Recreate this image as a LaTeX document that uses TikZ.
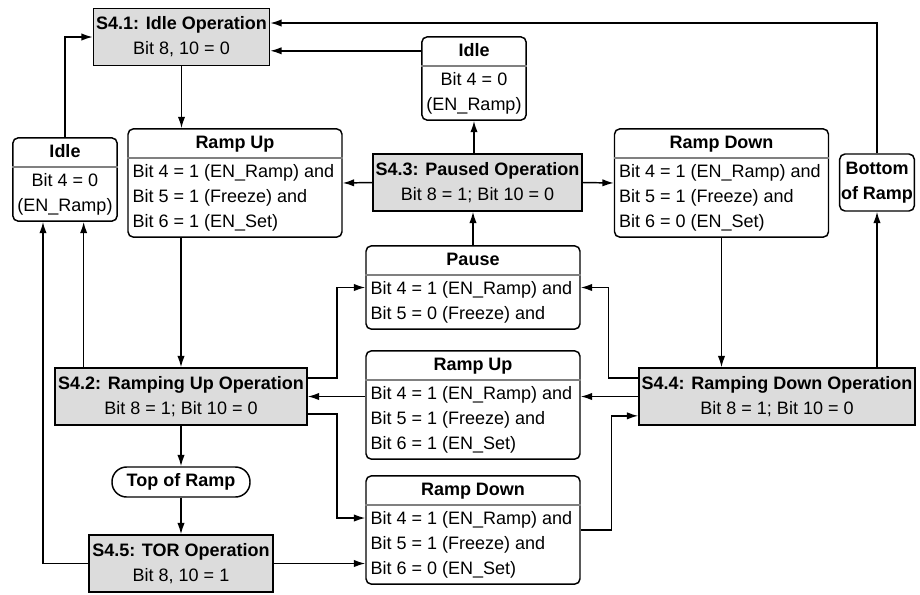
\documentclass[tikz,border=0pt]{standalone}
\usepackage{fontspec}
\setmainfont{Liberation Sans}
\usetikzlibrary{shapes.multipart,arrows.meta}
\definecolor{opgray}{RGB}{220,220,220}
\begin{document}
\begin{tikzpicture}[x=0.75pt,y=-0.75pt,
  font=\fontsize{13.5}{18.75}\selectfont,
  opbox/.style={draw,fill=opgray,line width=1.1pt,align=center,minimum height=42.75pt,inner sep=2pt},
  condbox/.style={draw,rounded corners=4pt,line width=1.1pt,rectangle split,rectangle split parts=2,
    rectangle split draw splits=false,rectangle split part align={center,left},
    align=left,inner xsep=3.5pt,inner ysep=1pt},
  idlebox/.style={condbox,rectangle split part align={center,center},align=center,minimum width=76.5pt},
  rampbox/.style={condbox,minimum width=160.5pt},
  endbox/.style={draw,rounded corners=4pt,line width=1.1pt,font=\fontsize{13.5}{18.75}\selectfont\bfseries,align=center,inner xsep=1pt},
  splitline/.style={draw=gray,line width=0.8pt},
  arr/.style={-{Latex[length=8.5pt,width=5.5pt]},line width=1.1pt}]
\useasboundingbox (0,0) rectangle (920,594);
\node[opbox,minimum width=131.25pt] (s41) at (181.5,37) {\textbf{S4.1: Idle Operation}\\Bit 8, 10 = 0};
\node[idlebox] (idleT) at (474,78.5) {\strut\textbf{Idle}\nodepart{two}\strut Bit 4 = 0\\\strut(EN\_Ramp)};
\node[idlebox] (idleL) at (65,179.5) {\strut\textbf{Idle}\nodepart{two}\strut Bit 4 = 0\\\strut(EN\_Ramp)};
\node[rampbox] (upT) at (235,183) {\strut\textbf{Ramp Up}\nodepart{two}\strut Bit 4 = 1 (EN\_Ramp) and\\\strut Bit 5 = 1 (Freeze) and\\\strut Bit 6 = 1 (EN\_Set)};
\node[opbox,minimum width=156.75pt] (s43) at (477.5,182.5) {\textbf{S4.3: Paused Operation}\\Bit 8 = 1; Bit 10 = 0};
\node[rampbox] (downT) at (721.5,183) {\strut\textbf{Ramp Down}\nodepart{two}\strut Bit 4 = 1 (EN\_Ramp) and\\\strut Bit 5 = 1 (Freeze) and\\\strut Bit 6 = 0 (EN\_Set)};
\node[endbox,minimum height=42.75pt] (bottom) at (877,182.5) {Bottom\\of Ramp};
\node[rampbox] (pause) at (473,287.5) {\strut\textbf{Pause}\nodepart{two}\strut Bit 4 = 1 (EN\_Ramp) and\\\strut Bit 5 = 0 (Freeze) and};
\node[opbox,minimum width=189pt] (s42) at (181,396.5) {\textbf{S4.2: Ramping Up Operation}\\Bit 8 = 1; Bit 10 = 0};
\node[rampbox] (upM) at (473,405) {\strut\textbf{Ramp Up}\nodepart{two}\strut Bit 4 = 1 (EN\_Ramp) and\\\strut Bit 5 = 1 (Freeze) and\\\strut Bit 6 = 1 (EN\_Set)};
\node[opbox,minimum width=205.5pt] (s44) at (777,396.5) {\textbf{S4.4: Ramping Down Operation}\\Bit 8 = 1; Bit 10 = 0};
\node[endbox,rounded corners=11pt,minimum width=103.5pt,minimum height=22.5pt,inner ysep=1pt] (topR) at (181,482) {Top of Ramp};
\node[rampbox] (downB) at (473,530) {\strut\textbf{Ramp Down}\nodepart{two}\strut Bit 4 = 1 (EN\_Ramp) and\\\strut Bit 5 = 1 (Freeze) and\\\strut Bit 6 = 0 (EN\_Set)};
\node[opbox,minimum width=138pt] (s45) at (181,563.5) {\textbf{S4.5: TOR Operation}\\Bit 8, 10 = 1};
\foreach \n in {idleT,idleL,upT,downT,pause,upM,downB}
  \draw[splitline] (\n.text split west) -- (\n.text split east);
\draw[arr] (s41.south) -- (s41.south |- upT.north);
\draw[arr] (idleL.north) |- (s41.west);
\draw[arr] ([yshift=-11pt]idleT.north west) -- ([yshift=-11pt]idleT.north west -| s41.east);
\draw[arr] (bottom.north) |- ([yshift=10.5pt]s41.east);
\draw[arr] (idleT.south |- s43.north) -- (idleT.south);
\draw[arr] (s43.west) -- (upT.east);
\draw[arr] (s43.east) -- (downT.west);
\draw[arr] (pause.north) -- (pause.north |- s43.south);
\draw[arr] (s42.north |- upT.south) -- (s42.north);
\draw[arr] ([xshift=14pt]idleL.south |- s42.north) -- ([xshift=14pt]idleL.south);
\draw[arr] (s45.west) -| ([xshift=-16.5pt]idleL.south);
\draw[arr] ([yshift=14pt]s42.east) -- ++(22pt,0) |- (pause.west);
\draw[arr] (upM.west |- s42.east) -- (s42.east);
\draw[arr] ([yshift=-13pt]s42.east) -- ++(22pt,0) |- ([yshift=9pt]downB.west);
\draw[arr] (s42.south) -- (topR.north);
\draw[arr] (topR.south) -- (s45.north);
\draw[arr] (s45.east) -- (s45.east -| downB.west);
\draw[arr] (downT.south) -- (downT.south |- s44.north);
\draw[arr] (bottom.south |- s44.north) -- (bottom.south);
\draw[arr] ([yshift=14pt]s44.west) -- ++(-22.5pt,0) |- (pause.east);
\draw[arr] (s44.west) -- (s44.west -| upM.east);
\draw[arr] (downB.east) -- ++(23pt,0) |- ([yshift=-14.5pt]s44.west);
\end{tikzpicture}
\end{document}
